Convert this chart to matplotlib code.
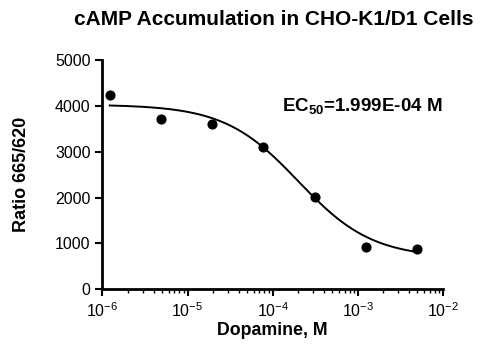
import numpy as np
import matplotlib
matplotlib.use('Agg')
import matplotlib.pyplot as plt
import matplotlib.ticker as mticker

plt.rcParams['font.family'] = ['Liberation Sans', 'DejaVu Sans']

# dopamine concentrations (M) and measured ratio
conc = [1.22e-6, 4.88e-6, 1.95e-5, 7.8e-5, 3.125e-4, 1.25e-3, 5.0e-3]
ratio = [4235, 3722, 3612, 3105, 2020, 925, 866]

# fitted curve parameters
top = 4030
bottom = 680
ec50 = 1.999e-4
hill = 1.0

xfit = np.logspace(np.log10(conc[0]), np.log10(conc[-1]), 300)
yfit = bottom + (top - bottom) / (1 + (xfit / ec50) ** hill)

fig = plt.figure(figsize=(4.9, 3.56), dpi=100)
ax = fig.add_axes([0.209, 0.188, 0.695, 0.643])

ax.plot(xfit, yfit, color='black', linewidth=1.4)
ax.plot(conc, ratio, 'o', color='black', markersize=6.3)

ax.set_xscale('log')
ax.set_xlim(1e-6, 1e-2)
ax.set_ylim(0, 5000)
ax.set_yticks([0, 1000, 2000, 3000, 4000, 5000])
ax.xaxis.set_major_locator(mticker.LogLocator(base=10, numticks=10))
ax.xaxis.set_minor_locator(mticker.LogLocator(base=10, subs=np.arange(2, 10), numticks=10))
ax.xaxis.set_minor_formatter(mticker.NullFormatter())
ax.xaxis.set_major_formatter(mticker.FuncFormatter(lambda v, p: r'$\mathregular{10^{%d}}$' % round(np.log10(v))))

for s in ['top', 'right']:
    ax.spines[s].set_visible(False)
for s in ['left', 'bottom']:
    ax.spines[s].set_linewidth(2)

ax.tick_params(axis='both', which='major', direction='out', length=5, width=1.5, labelsize=11.5)
ax.tick_params(axis='x', which='minor', direction='out', length=3, width=1)

ax.set_xlabel('Dopamine, M', fontsize=12.8, fontweight='bold', labelpad=2)
ax.set_ylabel('Ratio 665/620', fontsize=13, fontweight='bold', labelpad=18)
fig.suptitle('cAMP Accumulation in CHO-K1/D1 Cells', fontsize=15, fontweight='bold', x=0.559, y=0.972)

ax.text(0.528, 0.775, r'EC$_{\mathregular{50}}$=1.999E-04 M', transform=ax.transAxes,
        fontsize=13.5, fontweight='bold')

fig.savefig('out.png', dpi=100)
